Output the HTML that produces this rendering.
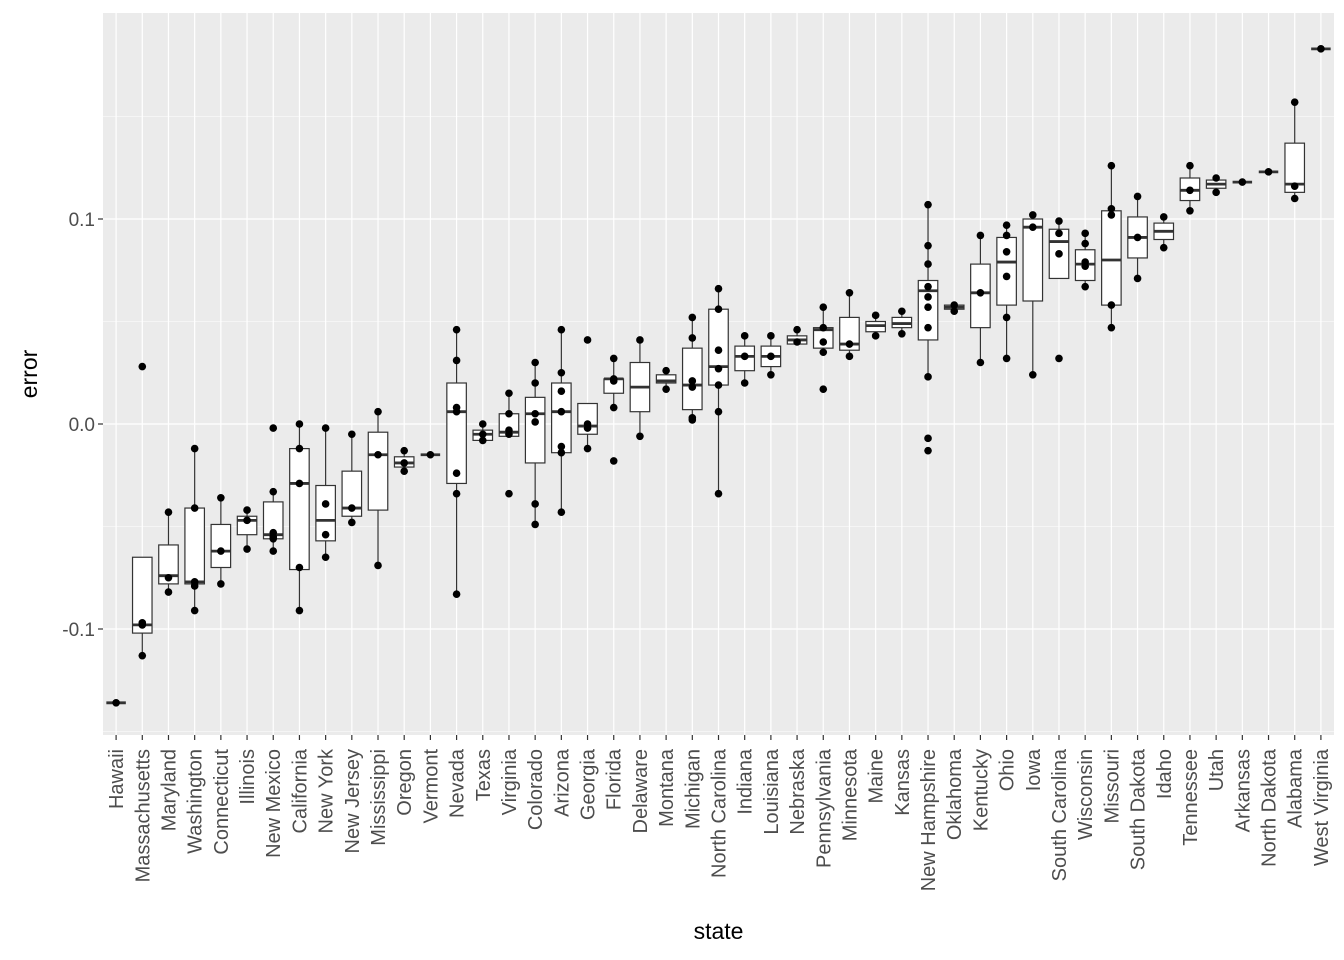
<!DOCTYPE html>
<html><head><meta charset="utf-8">
<style>
body{margin:0;background:#fff;}
svg{display:block;font-family:"Liberation Sans",Arial,sans-serif;}
</style></head>
<body>
<svg id="chart" width="1344" height="960" xmlns="http://www.w3.org/2000/svg">
<rect x="0" y="0" width="1344" height="960" fill="#fff"/>
<g id="g"></g>
</svg>
<script>
const states=["Hawaii","Massachusetts","Maryland","Washington","Connecticut","Illinois","New Mexico","California","New York","New Jersey","Mississippi","Oregon","Vermont","Nevada","Texas","Virginia","Colorado","Arizona","Georgia","Florida","Delaware","Montana","Michigan","North Carolina","Indiana","Louisiana","Nebraska","Pennsylvania","Minnesota","Maine","Kansas","New Hampshire","Oklahoma","Kentucky","Ohio","Iowa","South Carolina","Wisconsin","Missouri","South Dakota","Idaho","Tennessee","Utah","Arkansas","North Dakota","Alabama","West Virginia"];
const lowerWhisker=[-0.136,-0.113,-0.082,-0.091,-0.078,-0.061,-0.062,-0.091,-0.065,-0.048,-0.069,-0.023,-0.015,-0.083,-0.008,-0.006,-0.049,-0.043,-0.012,0.008,-0.006,0.017,0.003,-0.034,0.020,0.024,0.039,0.034,0.033,0.043,0.044,0.023,0.055,0.030,0.032,0.024,0.071,0.067,0.047,0.071,0.086,0.104,0.113,0.118,0.123,0.110,0.183];
const q1=[-0.136,-0.102,-0.078,-0.078,-0.070,-0.054,-0.056,-0.071,-0.057,-0.045,-0.042,-0.021,-0.015,-0.029,-0.008,-0.006,-0.019,-0.014,-0.005,0.015,0.006,0.020,0.007,0.019,0.026,0.028,0.039,0.037,0.036,0.045,0.047,0.041,0.056,0.047,0.058,0.060,0.071,0.070,0.058,0.081,0.090,0.109,0.115,0.118,0.123,0.113,0.183];
const medians=[-0.136,-0.098,-0.074,-0.077,-0.062,-0.047,-0.054,-0.029,-0.047,-0.041,-0.015,-0.019,-0.015,0.006,-0.005,-0.004,0.005,0.006,-0.001,0.022,0.018,0.021,0.019,0.028,0.033,0.033,0.041,0.046,0.039,0.048,0.049,0.065,0.057,0.064,0.079,0.096,0.089,0.078,0.080,0.091,0.094,0.114,0.117,0.118,0.123,0.117,0.183];
const q3=[-0.136,-0.065,-0.059,-0.041,-0.049,-0.045,-0.038,-0.012,-0.030,-0.023,-0.004,-0.016,-0.015,0.020,-0.003,0.005,0.013,0.020,0.010,0.022,0.030,0.024,0.037,0.056,0.038,0.038,0.043,0.047,0.052,0.050,0.052,0.070,0.058,0.078,0.091,0.100,0.095,0.085,0.104,0.101,0.098,0.120,0.119,0.118,0.123,0.137,0.183];
const upperWhisker=[-0.136,-0.065,-0.043,-0.012,-0.036,-0.042,-0.033,0.000,-0.002,-0.005,0.007,-0.013,-0.015,0.046,0.000,0.016,0.030,0.046,0.010,0.032,0.041,0.026,0.052,0.066,0.043,0.043,0.046,0.057,0.064,0.053,0.055,0.107,0.058,0.092,0.097,0.103,0.100,0.093,0.126,0.111,0.101,0.126,0.120,0.118,0.123,0.157,0.183];
const points=[[-0.136],[-0.097,-0.098,-0.113,0.028],[-0.043,-0.075,-0.082],[-0.012,-0.041,-0.077,-0.079,-0.091],[-0.036,-0.062,-0.078],[-0.042,-0.047,-0.061],[-0.002,-0.033,-0.053,-0.055,-0.056,-0.062],[0.0,-0.012,-0.029,-0.070,-0.091],[-0.002,-0.039,-0.054,-0.065],[-0.005,-0.041,-0.048],[0.006,-0.015,-0.069],[-0.013,-0.019,-0.023],[-0.015],[0.046,0.031,0.008,0.006,-0.024,-0.034,-0.083],[0.0,-0.005,-0.008],[0.015,0.005,-0.003,-0.005,-0.034],[0.030,0.020,0.005,0.001,-0.039,-0.049],[0.046,0.025,0.016,0.006,-0.011,-0.014,-0.043],[0.041,0.0,-0.002,-0.012],[0.032,0.022,0.021,0.008,-0.018],[0.041,-0.006],[0.026,0.017],[0.052,0.042,0.021,0.018,0.003,0.002],[0.066,0.056,0.036,0.027,0.019,0.006,-0.034],[0.043,0.033,0.020],[0.043,0.033,0.024],[0.046,0.040],[0.057,0.047,0.040,0.035,0.017],[0.064,0.039,0.033],[0.053,0.043],[0.055,0.044],[0.107,0.087,0.078,0.067,0.062,0.057,0.047,0.023,-0.007,-0.013],[0.058,0.055],[0.092,0.064,0.030],[0.097,0.092,0.084,0.072,0.052,0.032],[0.102,0.096,0.024],[0.099,0.093,0.083,0.032],[0.093,0.088,0.079,0.077,0.067],[0.126,0.105,0.102,0.058,0.047],[0.111,0.091,0.071],[0.101,0.086],[0.126,0.114,0.104],[0.120,0.113],[0.118],[0.123],[0.157,0.116,0.110],[0.183]];
const yTicks=[-0.1,0.0,0.1];
const yTickLabels=["-0.1","0.0","0.1"];
const yMinor=[-0.15,-0.05,0.05,0.15];

const NS="http://www.w3.org/2000/svg";
const g=document.getElementById('g');
const PL=103,PR=1334,PT=13,PB=735;
const y=v=>424-v*2050;
const x=i=>PL+(i+0.5)*(PR-PL)/states.length;
function el(t,a,p){const e=document.createElementNS(NS,t);for(const k in a)e.setAttribute(k,a[k]);(p||g).appendChild(e);return e;}

const panel=el('rect',{x:PL,y:PT,width:PR-PL,height:PB-PT,fill:'#EBEBEB'});


yMinor.forEach(v=>{if(y(v)>PT&&y(v)<PB){const l=el('line',{x1:PL,x2:PR,y1:y(v),y2:y(v),stroke:'#fff','stroke-width':0.6});

}});
yTicks.forEach((v,i)=>{const l=el('line',{x1:PL,x2:PR,y1:y(v),y2:y(v),stroke:'#fff','stroke-width':1.2});


const t=el('line',{x1:PL-5,x2:PL,y1:y(v),y2:y(v),stroke:'#333','stroke-width':1.2});


const tx=el('text',{x:PL-8,y:y(v)+7,'text-anchor':'end','font-size':19,fill:'#4d4d4d'});tx.textContent=yTickLabels[i];

});
states.forEach((s,i)=>{const l=el('line',{x1:x(i),x2:x(i),y1:PT,y2:PB,stroke:'#fff','stroke-width':1.2});

});
const bw=19.5;
states.forEach((s,i)=>{
 const grp=el('g',{});
 
 
 const cx=x(i);
 el('line',{x1:cx,x2:cx,y1:y(upperWhisker[i]),y2:y(q3[i]),stroke:'#333','stroke-width':1.2},grp);
 el('line',{x1:cx,x2:cx,y1:y(q1[i]),y2:y(lowerWhisker[i]),stroke:'#333','stroke-width':1.2},grp);
 el('rect',{x:cx-bw/2,y:y(q3[i]),width:bw,height:Math.max(0,y(q1[i])-y(q3[i])),fill:'#fff',stroke:'#333','stroke-width':1.2},grp);
 el('line',{x1:cx-bw/2,x2:cx+bw/2,y1:y(medians[i]),y2:y(medians[i]),stroke:'#333','stroke-width':2.8},grp);
 points[i].forEach(v=>{const c=el('circle',{cx:cx,cy:y(v),r:3.8,fill:'#000'});
 
 });
 const t=el('line',{x1:cx,x2:cx,y1:PB,y2:PB+5,stroke:'#333','stroke-width':1.2});
 
 
 const tx=el('text',{x:0,y:0,'text-anchor':'end','font-size':20,fill:'#4d4d4d',transform:`translate(${cx+7},${PB+14}) rotate(-90)`});
 tx.textContent=s;
 
 
});
const xt=el('text',{x:(PL+PR)/2,y:939,'text-anchor':'middle','font-size':23,fill:'#000'});xt.textContent='state';


const yt=el('text',{x:0,y:0,'text-anchor':'middle','font-size':23,fill:'#000',transform:`translate(37,${(PT+PB)/2}) rotate(-90)`});yt.textContent='error';


</script>
</body></html>
